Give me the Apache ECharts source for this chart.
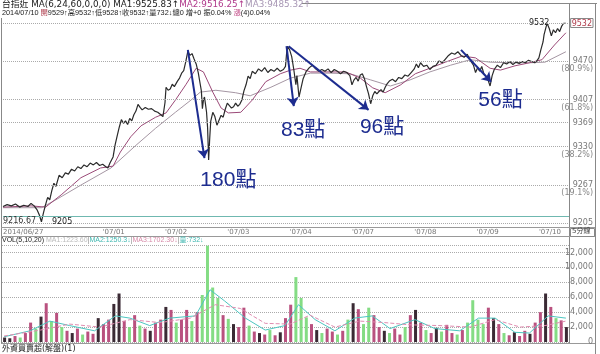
<!DOCTYPE html>
<html>
<head>
<meta charset="utf-8">
<script src="https://cdn.jsdelivr.net/npm/echarts@6/dist/echarts.min.js"></script>
<style>
  html, body { margin: 0; padding: 0; background: #fff; }
  #chart { width: 600px; height: 354px; }
</style>
</head>
<body>
<div id="chart"></div>
<script>
// x = 5-minute bar number, 60 bars a session
var dayStarts = [0, 96, 156, 216, 276, 336, 396, 456, 516];
var dayLabels = ['2014/06/27', "'07/01", "'07/02", "'07/03", "'07/04", "'07/07", "'07/08", "'07/09", "'07/10"];

var priceTicks = [9532, 9470, 9407, 9369, 9330, 9267, 9205];
var fibTicks = [9470, 9407, 9330, 9267];
var fibLabels = ['(80.9%)', '(61.8%)', '(38.2%)', '(19.1%)'];
var crossPrice = 9216.67;

// [bar, price]
var price = [
  [0, 9232], [4, 9235], [8, 9233], [12, 9236], [16, 9231], [20, 9234], [24, 9232], [27, 9237],
  [30, 9233], [33, 9226], [35, 9218], [37, 9207], [39, 9222], [41, 9235], [43, 9247], [45, 9243],
  [47, 9258], [49, 9270], [51, 9265], [54, 9283], [57, 9279], [60, 9287], [63, 9285], [66, 9293],
  [69, 9290], [72, 9297], [75, 9294], [78, 9300], [81, 9297], [84, 9303], [87, 9300], [90, 9304],
  [93, 9299], [96, 9301], [99, 9297], [101, 9295], [103, 9303], [106, 9313], [108, 9333], [110, 9348],
  [112, 9362], [114, 9374], [116, 9368], [118, 9372], [120, 9366], [122, 9376], [124, 9372], [126, 9382],
  [128, 9388], [130, 9399], [132, 9394], [134, 9390], [137, 9394], [140, 9391], [143, 9392], [146, 9388],
  [149, 9386], [152, 9382], [154, 9379], [156, 9402], [157, 9427], [159, 9422], [161, 9424], [163, 9432],
  [165, 9428], [168, 9437], [170, 9442], [172, 9450], [174, 9454], [176, 9469], [178, 9486], [180, 9479],
  [182, 9482], [184, 9473], [186, 9465], [188, 9451], [190, 9431], [191, 9421], [192, 9392], [193, 9406],
  [194, 9411], [195, 9399], [196, 9386], [197, 9361], [198, 9308], [199, 9342], [200, 9371], [202, 9386],
  [204, 9379], [206, 9365], [208, 9373], [210, 9381], [212, 9378], [214, 9391], [216, 9401], [218, 9397],
  [220, 9393], [222, 9395], [224, 9401], [226, 9396], [228, 9399], [230, 9406], [232, 9421], [234, 9431],
  [236, 9445], [238, 9441], [240, 9453], [243, 9449], [246, 9457], [249, 9453], [252, 9459], [255, 9451],
  [258, 9456], [261, 9453], [264, 9458], [267, 9453], [270, 9456], [272, 9461], [273, 9481], [274, 9494],
  [276, 9488], [278, 9477], [280, 9456], [282, 9431], [283, 9446], [285, 9411], [287, 9426], [289, 9441],
  [292, 9453], [295, 9459], [298, 9463], [301, 9457], [304, 9453], [307, 9456], [310, 9453], [313, 9457],
  [316, 9451], [319, 9456], [322, 9453], [325, 9449], [328, 9453], [331, 9451], [334, 9446], [336, 9431],
  [338, 9439], [340, 9443], [342, 9437], [344, 9447], [346, 9449], [348, 9441], [350, 9428], [352, 9416],
  [354, 9400], [356, 9413], [358, 9420], [360, 9416], [362, 9420], [364, 9423], [366, 9419], [368, 9427],
  [370, 9433], [372, 9437], [375, 9440], [378, 9436], [381, 9443], [384, 9441], [387, 9447], [390, 9445],
  [393, 9451], [396, 9457], [398, 9465], [400, 9459], [402, 9467], [405, 9461], [408, 9463], [411, 9456],
  [414, 9461], [417, 9463], [420, 9470], [423, 9467], [426, 9473], [429, 9479], [432, 9483], [435, 9481],
  [438, 9485], [441, 9479], [444, 9476], [447, 9481], [450, 9471], [453, 9463], [455, 9451], [457, 9459],
  [459, 9453], [461, 9461], [463, 9449], [465, 9445], [467, 9439], [469, 9429], [471, 9446], [473, 9456],
  [476, 9463], [479, 9459], [482, 9467], [485, 9465], [488, 9469], [491, 9464], [494, 9468], [497, 9466],
  [500, 9469], [503, 9467], [506, 9471], [509, 9469], [512, 9467], [514, 9470], [516, 9475], [518, 9489],
  [520, 9501], [521, 9513], [523, 9526], [524, 9531], [526, 9523], [528, 9511], [530, 9521], [532, 9516],
  [534, 9523], [536, 9518], [538, 9527], [540, 9532], [542, 9532]
];

var ma2 = [
  [0, 9231], [27, 9233], [41, 9231], [56, 9251], [75, 9279], [94, 9295], [106, 9298], [113, 9321],
  [123, 9346], [133, 9364], [147, 9378], [157, 9385], [166, 9406], [176, 9431], [186, 9458], [193, 9452],
  [202, 9419], [210, 9393], [217, 9385], [229, 9386], [240, 9406], [253, 9436], [267, 9449], [277, 9455],
  [286, 9458], [296, 9452], [310, 9452], [330, 9452], [344, 9442], [356, 9426], [368, 9418], [383, 9431],
  [397, 9449], [411, 9458], [426, 9468], [442, 9478], [455, 9475], [469, 9458], [479, 9455], [493, 9462],
  [507, 9467], [519, 9472], [531, 9496], [542, 9516]
];

var ma3 = [
  [0, 9230], [37, 9230], [51, 9243], [75, 9267], [104, 9295], [128, 9332], [147, 9360], [166, 9386],
  [181, 9406], [190, 9419], [205, 9422], [224, 9418], [238, 9413], [258, 9427], [277, 9442], [296, 9450],
  [315, 9450], [334, 9449], [354, 9439], [373, 9429], [392, 9439], [411, 9452], [431, 9463], [450, 9472],
  [469, 9468], [488, 9467], [508, 9467], [522, 9468], [542, 9485]
];

// drops marked on the chart: [from, to] as [bar, price]
var dropArrows = [
  [[178, 9488], [194, 9311]],
  [[273, 9494], [280, 9396]],
  [[275, 9494], [352, 9390]],
  [[441, 9488], [470, 9436]]
];
var dropTexts = [['180點', 217, 9275], ['83點', 289, 9357], ['96點', 365, 9362], ['56點', 479, 9406]];

// volume, one bar per 5 bars starting at bar 2.5
var volume = [
  600, 500, 800, 600, 1200, 2600, 1800, 3400, 5200, 2800,
  3900, 2000, 1500, 1200, 1800, 1000, 1400, 1100, 3200, 2400,
  3000, 5100, 6500, 2800, 2000, 3600, 2200, 1800, 1500, 2600,
  3000, 4700, 4300, 2600, 3000, 4300, 2800, 4000, 6300, 12900,
  7300, 5900, 3600, 3100, 2400, 2000, 4600, 2200, 1400, 1200,
  1000, 1600, 900, 1300, 3200, 5000, 8700, 5900, 3300, 2400,
  1600, 1200, 1800, 1400, 1000, 1500, 3000, 5200, 4400, 2400,
  4600, 3600, 2000, 1500, 1200, 1800, 1000, 2000, 3600, 4300,
  2600, 1600, 1200, 1900, 1400, 2300, 1200, 1000, 1600, 2600,
  5600, 3000, 2400, 4600, 3200, 2400, 1200, 900, 1300, 800,
  1500, 1100, 2600, 4000, 6500, 4700, 3200, 2900, 2000
];
var volKind = 'kkrgrrgkrg' + 'rgrkrgrrkr' + 'rkkrgrgrkr' + 'rkrgrrgrgg' + 'ggrgkrrgrk' +
  'rgrkrrgggr' + 'kgrrgrgkrg' + 'grrkgrrgrk' + 'rgrkgrrgrg' + 'gggrkrgrkr' + 'rkrrkrgrk';

var volMa10 = [
  [2, 700], [27, 1500], [46, 2800], [65, 2200], [89, 1500], [109, 3500], [123, 3200], [142, 2200],
  [161, 3200], [186, 3500], [200, 7000], [214, 5500], [234, 3200], [253, 1600], [272, 2200], [285, 5000],
  [301, 3000], [320, 1500], [339, 3200], [356, 3500], [373, 1800], [397, 3000], [416, 1800], [440, 1500],
  [458, 3200], [474, 3200], [493, 1300], [507, 1200], [525, 3500], [542, 3200]
];
var volMa20 = [
  [2, 800], [37, 1600], [65, 2400], [94, 2000], [123, 3000], [152, 2600], [181, 3200], [205, 5000],
  [229, 4500], [253, 2500], [277, 2400], [296, 3600], [320, 2000], [344, 2800], [368, 2600], [392, 2300],
  [421, 2200], [450, 2000], [474, 3000], [498, 2000], [522, 2200], [542, 2800]
];

var FONT = 'DejaVu Sans, Noto Sans CJK TC, sans-serif';
var NARROW = 'Liberation Sans, Noto Sans CJK TC, sans-serif';
var NAVY = '#1d2c8f';
var volColors = { r: '#b9517f', g: '#84dc84', k: '#3a2a34' };

var volBars = volume.map(function (v, i) {
  return { value: [2.5 + 5 * i, v], itemStyle: { color: volColors[volKind[i]] } };
});

var gridLines = priceTicks.map(function (p) {
  return { yAxis: p };
});
gridLines.push({
  yAxis: crossPrice,
  lineStyle: { type: 'solid', color: '#6fb8b0', width: 1 },
  label: { show: true, position: 'insideStartBottom', formatter: String(crossPrice), fontSize: 8, color: '#333', distance: [0, 1] }
});

var chart = echarts.init(document.getElementById('chart'));

function hLine(y, x1, x2, color) {
  return { type: 'line', silent: true, shape: { x1: x1, y1: y, x2: x2, y2: y }, style: { stroke: color || '#999', lineWidth: 1 } };
}
function vLine(x, y1, y2, color) {
  return { type: 'line', silent: true, shape: { x1: x, y1: y1, x2: x, y2: y2 }, style: { stroke: color || '#999', lineWidth: 1 } };
}
function rich(size, family, colors) {
  var r = {};
  Object.keys(colors).forEach(function (k) { r[k] = { fill: colors[k], fontSize: size, fontFamily: family }; });
  return r;
}

chart.setOption({
  animation: false,
  backgroundColor: '#fff',
  textStyle: { fontFamily: FONT },
  grid: [
    { left: 2, right: 31, top: 23, bottom: 131 },
    { left: 2, right: 31, top: 245, bottom: 12 }
  ],
  xAxis: [
    {
      gridIndex: 0, type: 'value', min: 0, max: 545,
      axisLine: { show: false }, axisTick: { show: false }, splitLine: { show: false },
      axisLabel: {
        customValues: dayStarts,
        formatter: function (v) { return dayLabels[dayStarts.indexOf(v)]; },
        align: 'left', margin: 6, fontSize: 7, color: '#777'
      }
    },
    { gridIndex: 1, type: 'value', min: 0, max: 545, show: false }
  ],
  yAxis: [
    {
      gridIndex: 0, type: 'value', position: 'right', min: 9205, max: 9532,
      axisLine: { show: false }, axisTick: { show: false }, splitLine: { show: false },
      axisLabel: {
        customValues: priceTicks, margin: 24, align: 'right', fontSize: 8, color: '#777',
        formatter: function (v) { return v === 9532 ? '{hi|9532}' : String(v); },
        rich: { hi: { color: '#b03a4a', fontSize: 8, borderColor: '#888', borderWidth: 1, padding: [1, 1, 0, 1] } }
      }
    },
    {
      gridIndex: 0, type: 'value', position: 'right', min: 9205, max: 9532,
      axisLine: { show: false }, axisTick: { show: false }, splitLine: { show: false },
      axisLabel: {
        customValues: fibTicks, margin: 24, align: 'right', verticalAlign: 'top', padding: [4, 0, 0, 0],
        fontSize: 8, color: '#888',
        formatter: function (v) { return fibLabels[fibTicks.indexOf(v)]; }
      }
    },
    {
      gridIndex: 1, type: 'value', position: 'right', min: 0, max: 13000, interval: 2000,
      axisLine: { show: false }, axisTick: { show: false },
      splitLine: { lineStyle: { type: 'dotted', color: '#aaa' } },
      axisLabel: { margin: 24, align: 'right', fontSize: 8, color: '#777', showMaxLabel: false }
    }
  ],
  series: [
    {
      name: 'MA3', type: 'line', xAxisIndex: 0, yAxisIndex: 0, data: ma3,
      symbol: 'none', lineStyle: { color: '#a596a3', width: 1 }, z: 2,
      markLine: {
        silent: true, symbol: 'none',
        lineStyle: { type: 'dotted', color: '#aaa', width: 1 },
        label: { show: false },
        data: gridLines
      }
    },
    {
      name: 'MA2', type: 'line', xAxisIndex: 0, yAxisIndex: 0, data: ma2,
      symbol: 'none', lineStyle: { color: '#9b4a78', width: 1 }, z: 3
    },
    {
      name: 'price', type: 'line', xAxisIndex: 0, yAxisIndex: 0, data: price,
      symbol: 'none', lineStyle: { color: '#2a2a2a', width: 1.2 }, z: 4,
      markLine: {
        silent: true, symbol: ['none', 'arrow'], symbolSize: 9,
        lineStyle: { type: 'solid', color: NAVY, width: 2 },
        label: { show: false },
        data: dropArrows.map(function (a) { return [{ coord: a[0] }, { coord: a[1] }]; })
      },
      markPoint: {
        silent: true, symbol: 'rect', symbolSize: 1,
        itemStyle: { color: 'transparent' },
        data: dropTexts.map(function (t) {
          return {
            name: t[0], coord: [t[1], t[2]],
            label: { show: true, position: 'inside', formatter: '{b}', color: NAVY, fontSize: 21,
              fontFamily: 'Liberation Sans, Noto Sans CJK TC, sans-serif' }
          };
        }).concat([
          { name: '9532', coord: [540, 9532],
            label: { show: true, position: 'left', distance: 14, formatter: '{b}', fontSize: 8, color: '#222' } },
          { name: '9205', coord: [37, 9207],
            label: { show: true, position: 'right', distance: 10, formatter: '{b}', fontSize: 8, color: '#222' } }
        ])
      }
    },
    {
      name: 'VOL', type: 'bar', xAxisIndex: 1, yAxisIndex: 2, data: volBars, barWidth: 3
    },
    {
      name: 'VOL MA10', type: 'line', xAxisIndex: 1, yAxisIndex: 2, data: volMa10,
      symbol: 'none', lineStyle: { color: '#4cc6c0', width: 1 }
    },
    {
      name: 'VOL MA20', type: 'line', xAxisIndex: 1, yAxisIndex: 2, data: volMa20,
      symbol: 'none', lineStyle: { color: '#e08cb0', width: 1, type: 'dashed' }
    }
  ],
  graphic: [
    hLine(3.5, 302, 597, '#888'),
    vLine(1.5, 18, 344, '#888'),
    vLine(569.5, 4, 344, '#888'),
    vLine(595.5, 4, 354, '#888'),
    hLine(227.5, 1, 595, '#999'),
    hLine(236.5, 1, 595, '#999'),
    hLine(343.5, 1, 595, '#999'),
    {
      type: 'text', left: 2, top: 0, silent: true,
      style: {
        text: '{k|台指近 MA(6,24,60,0,0,0) MA1:9525.83↑}{a|MA2:9516.25↑}{b|MA3:9485.32↑}',
        font: '8.8px ' + FONT,
        rich: rich(8.8, FONT, { k: '#222', a: '#b03a8c', b: '#a796b4' })
      }
    },
    {
      type: 'text', left: 2, top: 9, silent: true,
      style: {
        text: '{k|2014/07/10 }{r|開}{k|9529↑高9532↑低9528↑收9532↑量732↓總0 增+0 振0.04% }{p|漲}{k|(4)0.04%}',
        font: '7.3px ' + NARROW,
        rich: rich(7.3, NARROW, { k: '#222', r: '#b04050', p: '#c04080' })
      }
    },
    {
      type: 'text', left: 2, top: 237, silent: true,
      style: {
        text: '{k|VOL(5,10,20)} {a|MA1:1223.60}{s||}{b|MA2:1250.3↓}{s||}{c|MA3:1702.30↓}{s||}{d|量:732↓}',
        font: '7px ' + NARROW,
        rich: rich(7, NARROW, { k: '#222', a: '#bbb', s: '#888', b: '#3fb7b0', c: '#d78aa8', d: '#3fb7b0' })
      }
    },
    {
      type: 'rect', silent: true, shape: { x: 570.5, y: 228.5, width: 24, height: 8 },
      style: { fill: '#fff', stroke: '#888', lineWidth: 1 }
    },
    {
      type: 'text', left: 572, top: 228, silent: true,
      style: { text: '5分線', font: '7px ' + FONT, fill: '#444' }
    },
    {
      type: 'text', left: 2, top: 345, silent: true,
      style: { text: '外資買賣超(解盤)(1)', font: '8px ' + FONT, fill: '#222' }
    }
  ]
});
</script>
</body>
</html>
